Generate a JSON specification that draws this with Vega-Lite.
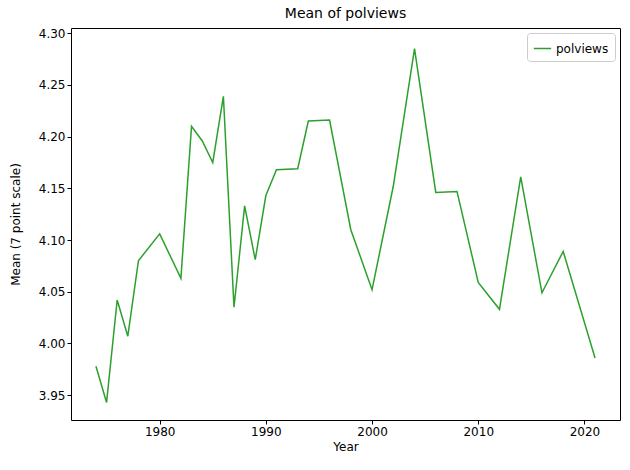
{
  "$schema": "https://vega.github.io/schema/vega-lite/v6.json",
  "autosize": "none",
  "width": 549,
  "height": 392,
  "padding": {"left": 71, "top": 28, "right": 10, "bottom": 50},
  "title": {"text": "Mean of polviews", "font": "DejaVu Sans", "fontSize": 14, "fontWeight": "normal", "offset": 6},
  "config": {
    "view": {"stroke": "black", "strokeWidth": 1},
    "axis": {"grid": false, "domain": false, "tickColor": "black", "tickSize": 4, "labelFont": "DejaVu Sans", "labelFontSize": 12, "labelColor": "black", "titleFont": "DejaVu Sans", "titleFontSize": 12, "titleFontWeight": "normal", "titleColor": "black"}
  },
  "data": {
    "values": [
      {"year": 1974, "mean": 3.978}, {"year": 1975, "mean": 3.943}, {"year": 1976, "mean": 4.042},
      {"year": 1977, "mean": 4.007}, {"year": 1978, "mean": 4.080}, {"year": 1980, "mean": 4.106},
      {"year": 1982, "mean": 4.063}, {"year": 1983, "mean": 4.210}, {"year": 1984, "mean": 4.196},
      {"year": 1985, "mean": 4.175}, {"year": 1986, "mean": 4.239}, {"year": 1987, "mean": 4.035},
      {"year": 1988, "mean": 4.133}, {"year": 1989, "mean": 4.081}, {"year": 1990, "mean": 4.143},
      {"year": 1991, "mean": 4.168}, {"year": 1993, "mean": 4.169}, {"year": 1994, "mean": 4.215},
      {"year": 1996, "mean": 4.216}, {"year": 1998, "mean": 4.110}, {"year": 2000, "mean": 4.052},
      {"year": 2002, "mean": 4.152}, {"year": 2004, "mean": 4.285}, {"year": 2006, "mean": 4.146},
      {"year": 2008, "mean": 4.147}, {"year": 2010, "mean": 4.059}, {"year": 2012, "mean": 4.033},
      {"year": 2014, "mean": 4.161}, {"year": 2016, "mean": 4.049}, {"year": 2018, "mean": 4.089},
      {"year": 2021, "mean": 3.986}
    ]
  },
  "transform": [{"calculate": "'polviews'", "as": "series"}],
  "mark": {"type": "line", "strokeWidth": 1.5},
  "encoding": {
    "x": {"field": "year", "type": "quantitative", "title": "Year",
      "scale": {"domain": [1971.65, 2023.35], "nice": false, "zero": false},
      "axis": {"values": [1980, 1990, 2000, 2010, 2020], "format": "d", "titlePadding": 4}},
    "y": {"field": "mean", "type": "quantitative", "title": "Mean (7 point scale)",
      "scale": {"domain": [3.926, 4.305], "nice": false, "zero": false},
      "axis": {"values": [3.95, 4.0, 4.05, 4.1, 4.15, 4.2, 4.25, 4.3], "format": ".2f", "titlePadding": 16}},
    "color": {"field": "series", "type": "nominal", "title": null,
      "scale": {"range": ["#2ca02c"]},
      "legend": {"orient": "top-right", "symbolType": "stroke", "symbolSize": 300, "symbolStrokeWidth": 1.5,
        "labelFont": "DejaVu Sans", "labelFontSize": 12, "labelColor": "black",
        "strokeColor": "#cccccc", "fillColor": "white", "padding": 6, "cornerRadius": 3, "offset": 5}}
  }
}
